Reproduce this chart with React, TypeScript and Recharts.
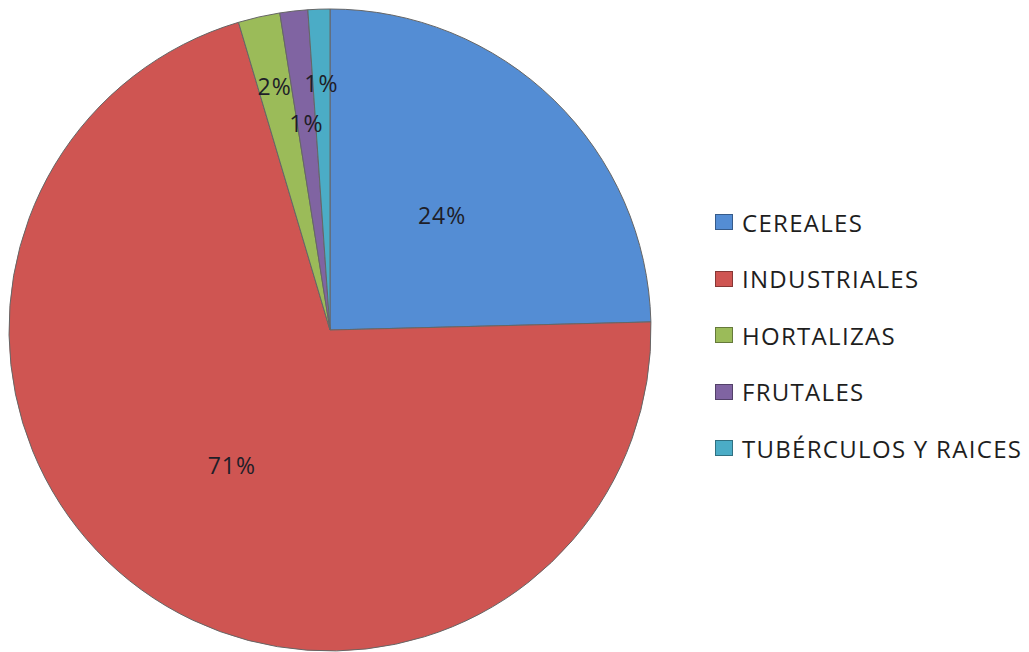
import React from 'react';
import { PieChart, Pie, Cell, Legend } from 'recharts';

const categories = ['CEREALES', 'INDUSTRIALES', 'HORTALIZAS', 'FRUTALES', 'TUBÉRCULOS Y RAICES'];
const shares = [24.6, 70.8, 2.1, 1.4, 1.1];
const pctLabels = ['24%', '71%', '2%', '1%', '1%'];

const colors = ['#548DD4', '#CF5552', '#9BBB59', '#8064A2', '#4BACC6'];
const labelRadius = [0.5, 0.52, 0.78, 0.65, 0.77];

const data = categories.map((name, i) => ({ name, value: shares[i], label: pctLabels[i] }));

const FONT = '"Open Sans", Lato, sans-serif';
const RAD = Math.PI / 180;

const renderLabel = (props: any) => {
    const { cx, cy, midAngle, outerRadius, index } = props;
    const r = outerRadius * labelRadius[index];
    const x = cx + r * Math.cos(-midAngle * RAD);
    const y = cy + r * Math.sin(-midAngle * RAD);
    return (
        <text
            x={x}
            y={y}
            fill="#1e1e28"
            fontSize={23}
            letterSpacing={1}
            fontFamily={FONT}
            textAnchor="middle"
            dominantBaseline="central"
        >
            {pctLabels[index]}
        </text>
    );
};

const renderLegend = () => (
    <div style={{ fontFamily: FONT, fontSize: 24, letterSpacing: 1.3, color: '#1e1e1e' }}>
        {categories.map((name, i) => (
            <div key={name} style={{ display: 'flex', alignItems: 'center', height: 56.5 }}>
                <span
                    style={{
                        display: 'inline-block',
                        width: 16,
                        height: 14,
                        background: colors[i],
                        border: '1px solid rgba(0,0,0,0.35)',
                        marginRight: 9,
                    }}
                />
                <span>{name}</span>
            </div>
        ))}
    </div>
);

export default function App() {
    return (
        <PieChart width={1021} height={644} margin={{ top: 0, right: 0, bottom: 0, left: 0 }}>
            <Pie
                data={data}
                dataKey="value"
                nameKey="name"
                cx={322}
                cy={322}
                outerRadius={321}
                startAngle={90}
                endAngle={-270}
                label={renderLabel}
                labelLine={false}
                isAnimationActive={false}
                stroke="#666"
                strokeWidth={1}
            >
                {data.map((d, i) => (
                    <Cell key={d.name} fill={colors[i]} />
                ))}
            </Pie>
            <Legend
                content={renderLegend}
                wrapperStyle={{ position: 'absolute', left: 707, top: 186, width: 320 }}
            />
        </PieChart>
    );
}
